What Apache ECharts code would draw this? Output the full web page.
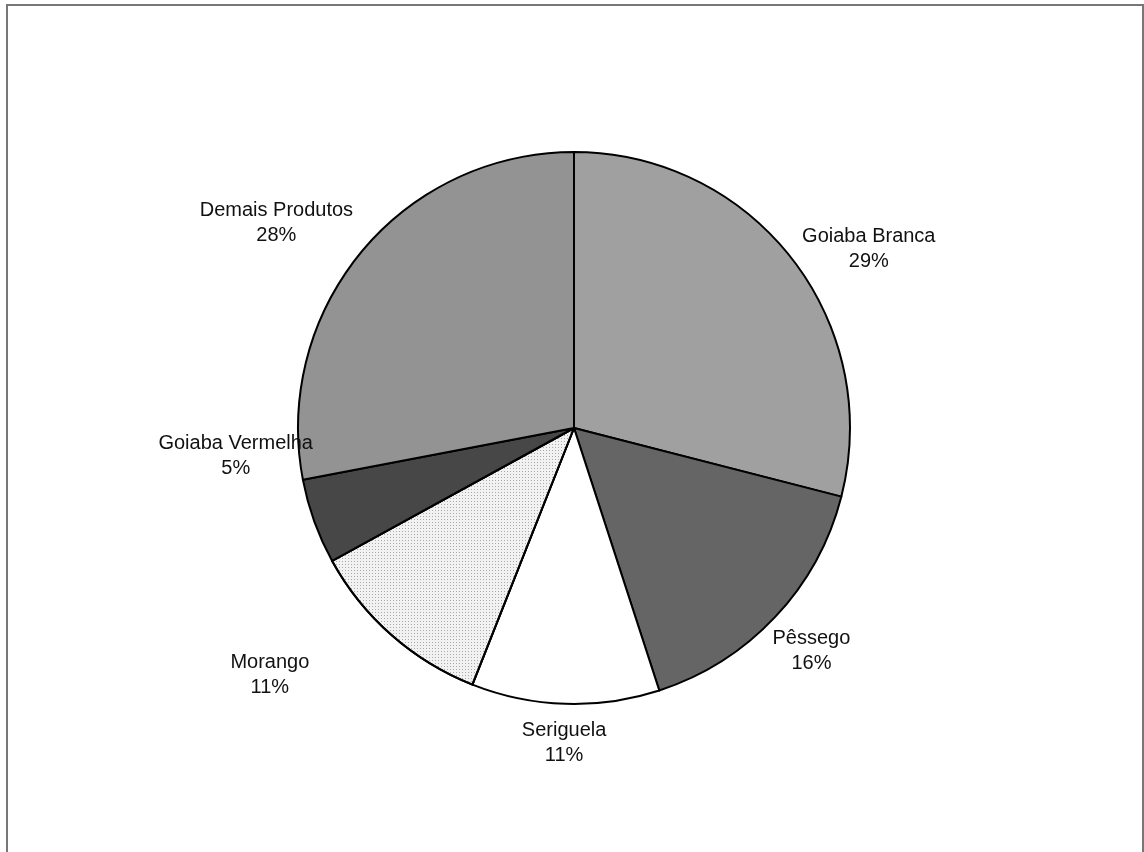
<!DOCTYPE html>
<html>
<head>
<meta charset="utf-8">
<script src="https://cdn.jsdelivr.net/npm/echarts@6/dist/echarts.min.js"></script>
<style>
  html, body { margin: 0; padding: 0; background: #ffffff; }
  #chart { width: 1144px; height: 852px; }
</style>
</head>
<body>
<div id="chart"></div>
<script>
// Share of each product (%)
const categories = ['Goiaba Branca', 'Pêssego', 'Seriguela', 'Morango', 'Goiaba Vermelha', 'Demais Produtos'];
const shares = [29, 16, 11, 11, 5, 28];

// Greyscale fills, one per slice
const fills = ['#a0a0a0', '#656565', '#ffffff', '#f2f2f2', '#474747', '#939393'];

// Label placement around the pie: distance (in radii) and angular nudge (degrees)
const labelDistance = [1.25, 1.18, 1.14, 1.42, 1.23, 1.31];
const labelNudge = [6.5, 0, 0, 9.5, 15, -5];

const cx = 574, cy = 428, R = 276;

const total = shares.reduce((a, b) => a + b, 0);
const midAngles = [];
let acc = 0;
shares.forEach(v => {
  midAngles.push((acc + v / 2) / total * 360);
  acc += v;
});

// Stippled fill for the light slice
const stipple = {
  symbol: 'rect',
  symbolSize: 1,
  color: 'rgba(110,110,110,0.55)',
  dashArrayX: [1, 2],
  dashArrayY: [1, 2],
  rotation: 0
};

const chart = echarts.init(document.getElementById('chart'), null, { renderer: 'canvas' });

chart.setOption({
  backgroundColor: '#ffffff',
  animation: false,
  graphic: [{
    type: 'rect',
    shape: { x: 7, y: 5, width: 1136, height: 870 },
    style: { fill: 'none', stroke: '#777777', lineWidth: 2 },
    silent: true
  }],
  series: [{
    type: 'pie',
    center: [cx, cy],
    radius: R,
    startAngle: 90,
    clockwise: true,
    avoidLabelOverlap: false,
    data: categories.map((name, i) => ({
      name: name,
      value: shares[i],
      itemStyle: i === 3 ? { color: fills[i], decal: stipple } : { color: fills[i] }
    })),
    itemStyle: { borderColor: '#000000', borderWidth: 2 },
    label: {
      show: true,
      position: 'outside',
      formatter: '{b}\n{c}%',
      fontFamily: '"Liberation Sans", Arial, sans-serif',
      fontSize: 20,
      lineHeight: 25,
      color: '#111111',
      align: 'center'
    },
    labelLine: { show: false },
    labelLayout: function (p) {
      const i = p.dataIndex;
      const a = (midAngles[i] + labelNudge[i]) * Math.PI / 180;
      const d = labelDistance[i] * R;
      return {
        x: cx + d * Math.sin(a),
        y: cy - d * Math.cos(a),
        align: 'center',
        verticalAlign: 'middle'
      };
    }
  }]
});
</script>
</body>
</html>
